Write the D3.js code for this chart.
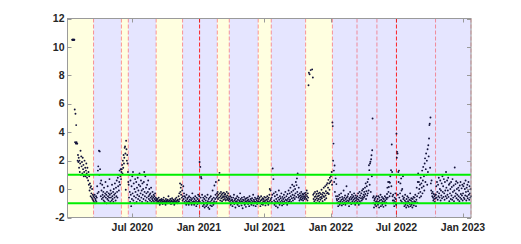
<!DOCTYPE html>
<html><head><meta charset="utf-8">
<script src="https://cdn.jsdelivr.net/npm/d3@7"></script>
<style>body{margin:0;background:#fff}</style>
</head><body>
<svg id="c" width="521" height="244"></svg>
<script>
// ---------- data ----------
const xStart = "2020-01-04", xEnd = "2023-01-23";
const yTicks = [-2, 0, 2, 4, 6, 8, 10, 12];
const xTickDates = ["2020-07-01","2021-01-01","2021-07-01","2022-01-01","2022-07-01","2023-01-01"];
const xTickLabels = ["Jul 2020","Jan 2021","Jul 2021","Jan 2022","Jul 2022","Jan 2023"];
const bandEdges = ["2020-01-04","2020-03-16","2020-06-01","2020-06-20","2020-09-05","2020-11-17","2021-02-21","2021-03-26","2021-06-14","2021-07-20","2021-10-23","2022-01-05","2023-01-23"];
const bandKinds = ["y","b","y","b","y","b","y","b","y","b","y","b"];
const dashDates = ["2020-03-16","2020-06-01","2020-06-20","2020-09-05","2020-11-17","2021-01-03","2021-02-21","2021-03-26","2021-06-14","2021-07-20","2021-10-23","2022-01-05","2022-03-14","2022-05-08","2022-07-01","2022-10-17","2023-01-23"];
const dashStrong = ["2021-01-03","2022-07-01"];
const thresholds = [1, -1];

const start2020 = "2020-01-17";
const values2020 = [
10.5,10.5,10.5,10.5,10.5,10.5,10.5,
5.6,3.3,5.3,3.2,4.5,3.3,3.2,3.2,2.0,
2.4,1.9,2.2,1.5,2.0,1.2,1.8,2.7,1.0,2.3,1.6,1.9,1.1,2.2,
1.4,1.7,0.9,1.2,2.0,1.0,1.5,0.9,1.3,1.8,1.1,0.8,1.5,1.0,0.6,
1.2,0.3,0.9,-0.1,0.4,0.1,-0.5,0.2,-0.3,-0.6,0.0,-0.7,-0.4,-0.8,
-0.5,-0.9,-0.6,-0.4,-1.0,-0.7,-0.8,-0.5,-0.9,-0.6,0.2,-0.3,1.3,
1.6,-0.2,2.7,1.0,2.65,1.4,0.4,-0.5,0.6,-0.1,-0.7,0.3,-0.4,
-0.6,-0.2,-0.8,0.1,-0.5,-0.9,-0.3,0.5,-0.6,-0.4,
-1.0,-0.2,-0.7,0.2,-0.5,-0.8,-0.3,-0.6,0.7,-0.4,
-0.9,-0.1,-0.6,-0.3,-0.8,0.3,-0.5,-0.7,-0.2,-0.9,
0.0,-0.4,-0.6,0.4,-0.3,-0.8,0.1,-0.5,0.6,-0.2,
-0.6,0.8,0.2,1.0,-0.1,0.5,1.3,0.3,0.9,1.4,
0.7,1.2,
1.4,1.7,1.1,2.0,1.5,2.4,1.8,2.2,2.9,3.0,2.5,-0.05,3.4,2.8,2.0,2.4,1.8,1.2,0.5,
0.3,-0.6,1.0,-0.2,-0.9,0.6,-0.4,-1.2,0.2,-0.7,
0.9,-0.3,1.2,-0.8,0.4,-0.5,0.0,-1.0,0.7,-0.2,
-0.6,0.5,-0.9,0.1,-0.4,0.8,-0.7,-0.1,0.3,-0.5,
1.1,-0.8,0.2,-0.3,0.6,-0.6,-0.1,-0.9,0.4,-0.4,
0.0,-0.7,0.5,1.2,-0.2,-0.5,0.9,-0.8,0.1,-0.3,
-0.6,0.3,-0.9,-0.2,0.6,-0.5,-0.7,0.0,-0.4,-0.8,
-0.3,-0.6,0.1,-0.9,-0.5,-0.7,-0.2,-0.8,-0.6,-0.4,
-0.9,-0.5,-0.7,-0.3,-0.8,-0.6,-1.0,-0.7,
-0.8,-0.9,-0.7,-1.0,-0.85,-0.6,-0.95,-0.8,-1.1,-0.75,
-0.9,-1.0,-0.8,-0.7,-0.95,-0.85,-1.05,-0.75,-0.9,-0.6,
-0.85,-1.0,-0.8,-0.9,-1.1,-0.7,-0.95,-0.85,-0.8,-1.0,
-0.75,-0.9,-0.5,-0.85,-1.0,-0.8,-0.95,-0.7,-0.9,-1.05,
-0.8,-0.85,-0.65,-1.0,-0.9,-0.75,-0.95,-0.85,-1.1,-0.8,
-0.9,-0.7,-1.0,-0.85,-0.6,-0.95,-0.8,-1.0,-0.75,-0.9,
-0.5,-0.85,-0.3,-0.7,0.4,-0.2,0.1,-0.4,0.3,-0.6,
-0.1,-0.8,-0.5,
0.2,-0.7,-0.3,-0.9,-0.5,-1.0,-0.6,-0.8,-1.1,-0.4,
-0.9,-0.7,-1.0,-0.6,-0.85,-1.1,-0.5,-0.9,-0.75,-1.0,
-0.6,-0.95,-0.8,-1.1,-0.7,-0.3,-0.9,-1.0,-0.6,-0.85,
-1.1,-0.7,-0.9,-0.5,-1.0,-0.8,-1.2,-0.6,-0.9,-1.05,
-0.7,-0.4,-0.9
];

const start2021 = "2021-01-01";
const values2021 = [
-0.8,-0.5,1.9,-0.9,1.56,-0.6,0.85,0.75,-1.0,-0.4,-0.8,-1.2,-0.6,
-0.9,-1.1,-0.7,-1.3,-0.5,-1.0,-0.8,-1.2,-0.6,-0.95,
-1.1,-0.4,-0.85,-1.3,-0.7,-1.0,-1.4,-0.6,-0.9,-1.15,
-0.5,-1.0,-0.8,-1.2,-0.7,-0.1,-0.95,-1.1,-0.6,-0.85,
0.25,-1.0,-0.7,-0.4,0.5,-0.9,-0.6,-0.3,
-0.5,-0.2,-0.7,-0.4,0.62,-0.6,1.14,-0.3,-0.8,-0.5,
-0.2,-0.65,-0.4,-0.85,-0.3,-0.6,-0.5,-0.75,-0.25,-0.55,
-0.4,-0.7,-0.35,-0.8,-0.5,-0.6,-0.2,-0.75,-0.45,-0.65,
-0.3,-0.8,-0.55,-0.7,
-0.7,-0.9,-0.5,-1.1,-0.8,-0.6,-1.0,-0.75,-1.2,-0.85,
-0.6,-0.95,-0.4,-1.05,-0.8,-0.7,-1.3,-0.9,-0.65,-1.0,
-0.85,-0.5,-1.1,-0.75,-0.95,-0.6,-1.2,-0.8,-0.9,-0.3,
-1.0,-0.7,-0.85,-1.15,-0.6,-0.9,-1.35,-0.75,-1.0,-0.8,
-0.55,-0.95,-1.1,-0.7,-0.85,-1.25,-0.65,-0.9,-1.0,-0.8,
-0.6,-1.05,-0.75,-0.9,-1.2,-0.5,-0.85,-1.0,-0.7,-0.95,
-1.1,-0.8,-0.65,-1.0,-0.9,-0.4,-1.15,-0.75,-0.85,-1.0,
-0.6,-0.9,-1.2,-0.7,-0.95,-0.8,-1.05,-0.65,-0.9,-0.5,-0.85,
-0.7,-1.0,-0.6,-0.9,-1.2,-0.8,-0.5,-1.05,-0.75,-0.95,
-0.65,-1.1,-0.85,-0.7,-1.0,-0.55,-0.9,-0.8,-1.15,-0.6,
-0.95,-0.75,-1.0,-0.5,-0.85,-0.7,-1.1,-0.6,-0.9,-0.4,
0.0,-0.8,-0.1,-0.7,-1.0,
-0.6,-0.9,-0.4,1.45,1.0,0.7,-0.3,-0.8,-1.1,-0.5,
-0.9,-0.2,-1.2,-0.7,-1.0,-0.4,-0.85,-1.3,-0.6,-0.95,
-0.1,-0.75,-1.1,-0.5,-0.9,-0.65,-1.0,-0.3,-0.8,-1.15,
-0.55,-0.9,-0.7,-1.05,-0.4,-0.85,-0.6,-1.0,-0.2,-0.75,
-0.95,-0.5,-0.8,-1.1,-0.35,-0.7,-0.9,-0.1,-0.6,-0.85,
-0.3,-0.75,0.1,-0.5,-0.9,-0.2,-0.65,0.3,-0.4,-0.8,
-0.1,-0.6,0.2,-0.45,-0.7,0.0,-0.3,0.5,-0.55,0.28,
0.75,-0.2,1.1,-0.4,-0.6,0.1,-0.5,-0.8,-0.3,-0.7,
-0.45,-0.6,-0.2,-0.75,-0.5,-0.35,-0.65,-0.8,-0.4,-0.55,
-0.3,-0.7,-0.5,-0.6,-0.25,
-0.4,-0.7,-0.1,-0.5,-0.8,-0.3,-0.6,7.3,8.18,null,
8.08,null,null,8.37,null,null,null,8.42,null,7.85,
-0.4,-0.7,-0.3,-0.85,-0.55,-0.2,-0.75,-0.5,-0.95,-0.35,
-0.65,-0.15,-0.8,-0.5,-0.3,-0.7,-0.45,-0.9,-0.25,-0.6,
-0.75,-0.35,-0.55,-0.05,-0.65,-0.4,-0.85,-0.25,-0.5,0.1,
-0.55,-0.3,-0.75,0.2,-0.45,-0.15,-0.65,0.3,-0.3,0.42,
-0.25,0.1,0.65,-0.35,0.4,-0.05,0.8,0.5,1.0
];

const start2022 = "2022-01-01";
const values2022 = [
0.9,0.6,1.2,0.3,4.69,4.43,2.0,3.2,1.3,0.5,1.66,-0.2,1.0,0.75,-0.5,0.35,-0.7,
-0.8,-1.0,-0.5,-1.2,-0.7,-0.9,-0.4,-1.1,-0.6,-0.85,
-1.0,-0.3,-0.75,-1.15,-0.55,-0.9,-0.7,-1.05,-0.1,-0.8,
-0.6,-0.95,-0.45,-1.1,-0.7,-0.85,0.2,-0.6,-1.0,-0.5,
-0.8,-0.35,-0.9,-1.2,-0.65,-0.75,-0.2,-0.95,-0.55,-1.05,
-0.7,-0.4,-0.85,-0.6,-1.0,-0.5,-0.75,-0.3,-0.9,-0.65,
-1.1,-0.45,-0.8,-0.6,-0.95,-0.7,
-0.5,-0.9,-0.3,-0.75,-1.1,-0.6,-0.2,-0.85,-0.45,-1.0,
-0.65,-0.3,-0.8,-0.1,-0.55,-0.7,0.0,-0.4,-0.6,-0.2,
-0.5,0.1,-0.35,0.4,-0.7,-0.15,0.2,-0.45,0.5,-0.3,
0.7,-0.1,1.68,1.33,0.3,1.8,1.92,-0.2,2.1,2.38,
0.9,2.73,4.97,-0.6,-1.0,-0.5,-1.3,-0.8,-0.7,-1.1,
-0.6,-0.9,-1.2,-0.5,-0.85,-1.0,
-0.7,-1.1,-0.5,-0.9,-1.3,-0.6,-0.8,-1.0,-0.4,-1.2,
-0.75,-0.95,-0.55,-1.1,-0.85,-0.65,-1.25,-0.7,-0.9,-1.0,
-0.5,-0.8,-1.15,-0.6,-0.95,-0.7,-0.35,0.1,-0.6,0.5,
-0.2,0.15,0.5,-0.5,0.45,0.9,-0.3,1.33,0.2,3.14,
1.2,-0.5,-0.8,-0.4,-1.0,-0.8,-1.2,-0.6,-0.9,-0.3,
-0.7,-1.1,
3.9,2.2,2.62,2.5,-0.4,1.2,0.5,1.3,-0.6,1.0,
-0.3,0.4,-0.8,0.75,-0.1,-0.9,0.0,-0.5,0.9,-0.7,
-1.0,-0.6,-1.2,-0.8,-0.4,-1.1,-0.9,-1.3,-0.7,-1.0,
-0.5,-1.15,-0.85,-0.6,-1.25,-0.95,-0.75,-1.05,-0.3,-1.2,
-0.8,-0.65,-1.1,-0.9,-1.3,-0.7,-1.0,-0.55,-1.15,-0.85,
-0.6,-1.0,-0.4,-0.9,-1.2,-0.75,0.1,-0.5,-0.95,0.5,
1.1,-0.3,0.5,0.0,-0.6,0.3,-0.2,0.8,-0.5,0.4,
0.1,1.3,-0.3,0.6,1.56,0.2,0.9,-0.1,1.8,2.16,
0.5,1.4,2.5,1.0,2.0,0.3,2.8,1.2,3.08,2.3,
3.56,4.5,4.6,1.5,5.04,0.4,-0.1,0.6,-0.3,-0.5,
-0.2,-0.6,-0.8,-0.35,-0.7,-0.5,-0.9,-0.4,-0.65,
-0.4,0.2,-0.6,0.5,-0.2,-0.75,0.3,-0.5,0.8,-0.3,
-0.6,0.0,0.6,-0.8,-0.1,-0.45,0.4,-0.65,0.9,-0.2,
0.2,-0.55,0.7,-0.3,-0.75,0.5,-0.1,-0.5,1.2,0.1,
-0.65,0.6,-0.4,-0.1,0.8,-0.55,0.3,-0.85,0.4,-0.3,
0.0,-0.7,0.5,-0.45,0.15,-0.75,0.7,-0.2,-0.6,0.25,
-0.85,-0.1,1.52,-0.5,0.35,-0.3,0.55,-0.65,0.0,-0.4,
0.45,-0.75,0.1,-0.5,-0.1,-0.85,0.25,-0.6,0.5,-0.35,
-0.7,0.05,-0.45,0.3,-0.8
];

const start2023 = "2023-01-01";
const values2023 = [
-0.3,0.2,-0.6,0.4,-0.7,0.0,-0.45,0.6,-0.2,-0.8,
0.1,-0.5,0.3,-0.65,-0.15,0.5,-0.4,-0.75,0.2,-0.3,
-0.6,0.0,-0.5
];

// ---------- build ----------
const parse = d3.utcParse("%Y-%m-%d");
const points = [];
[[start2020, values2020],[start2021, values2021],[start2022, values2022],[start2023, values2023]].forEach(([s, vals]) => {
  const t0 = parse(s);
  vals.forEach((v, i) => {
    if (v === null || v === undefined) return;
    points.push({ date: d3.utcDay.offset(t0, i), value: v });
  });
});

const L = 67.5, R = 471, T = 18.5, B = 217.5;
const x = d3.scaleUtc().domain([parse(xStart), parse(xEnd)]).range([L, R]);
const y = d3.scaleLinear().domain([-2, 12]).range([B, T]);

const svg = d3.select("#c");
const font = "'Liberation Sans', Arial, Helvetica, sans-serif";

// bands
const bands = bandKinds.map((k, i) => ({ k, a: parse(bandEdges[i]), b: parse(bandEdges[i + 1]) }));
svg.append("g").selectAll("rect").data(bands).join("rect")
  .attr("x", d => x(d.a)).attr("width", d => x(d.b) - x(d.a))
  .attr("y", T).attr("height", B - T)
  .attr("fill", d => d.k === "y" ? "#ffffe0" : "#e5e5ff");

// ticks (inward)
const tk = svg.append("g").attr("stroke", "#9a9a9a").attr("stroke-width", 1);
xTickDates.forEach(s => {
  const xx = Math.round(x(parse(s))) + 0.5;
  tk.append("line").attr("x1", xx).attr("x2", xx).attr("y1", B).attr("y2", B - 4);
  tk.append("line").attr("x1", xx).attr("x2", xx).attr("y1", T).attr("y2", T + 4);
});
yTicks.forEach(v => {
  const yy = Math.round(y(v)) + 0.5;
  tk.append("line").attr("x1", L).attr("x2", L + 4).attr("y1", yy).attr("y2", yy);
  tk.append("line").attr("x1", R).attr("x2", R - 4).attr("y1", yy).attr("y2", yy);
});

// dashed vertical lines
svg.append("g").selectAll("line").data(dashDates).join("line")
  .attr("x1", d => x(parse(d))).attr("x2", d => x(parse(d)))
  .attr("y1", T).attr("y2", B)
  .attr("stroke", "#ff0000")
  .attr("stroke-opacity", d => dashStrong.includes(d) ? 0.85 : 0.4)
  .attr("stroke-width", 1)
  .attr("stroke-dasharray", "4,2");

// points
svg.append("g").selectAll("circle").data(points).join("circle")
  .attr("cx", d => x(d.date)).attr("cy", d => y(d.value))
  .attr("r", 0.95).attr("fill", "#12123a");

// threshold lines
svg.append("g").selectAll("line").data(thresholds).join("line")
  .attr("x1", L).attr("x2", R)
  .attr("y1", d => y(d)).attr("y2", d => y(d))
  .attr("stroke", "#00ee00").attr("stroke-width", 2);

// box
svg.append("rect").attr("x", L).attr("y", T).attr("width", R - L).attr("height", B - T)
  .attr("fill", "none").attr("stroke", "#9a9a9a").attr("stroke-width", 1);

// labels
svg.append("g").selectAll("text").data(yTicks).join("text")
  .attr("x", L - 3).attr("y", d => y(d)).attr("dy", "0.35em")
  .attr("text-anchor", "end")
  .attr("font-family", font).attr("font-size", "10.5px").attr("font-weight", "bold")
  .attr("fill", "#262626").text(d => d);

svg.append("g").selectAll("text").data(xTickDates).join("text")
  .attr("x", d => x(parse(d))).attr("y", 230.5)
  .attr("text-anchor", "middle")
  .attr("font-family", font).attr("font-size", "10.5px").attr("font-weight", "bold")
  .attr("fill", "#262626").text((d, i) => xTickLabels[i]);
</script>
</body></html>
